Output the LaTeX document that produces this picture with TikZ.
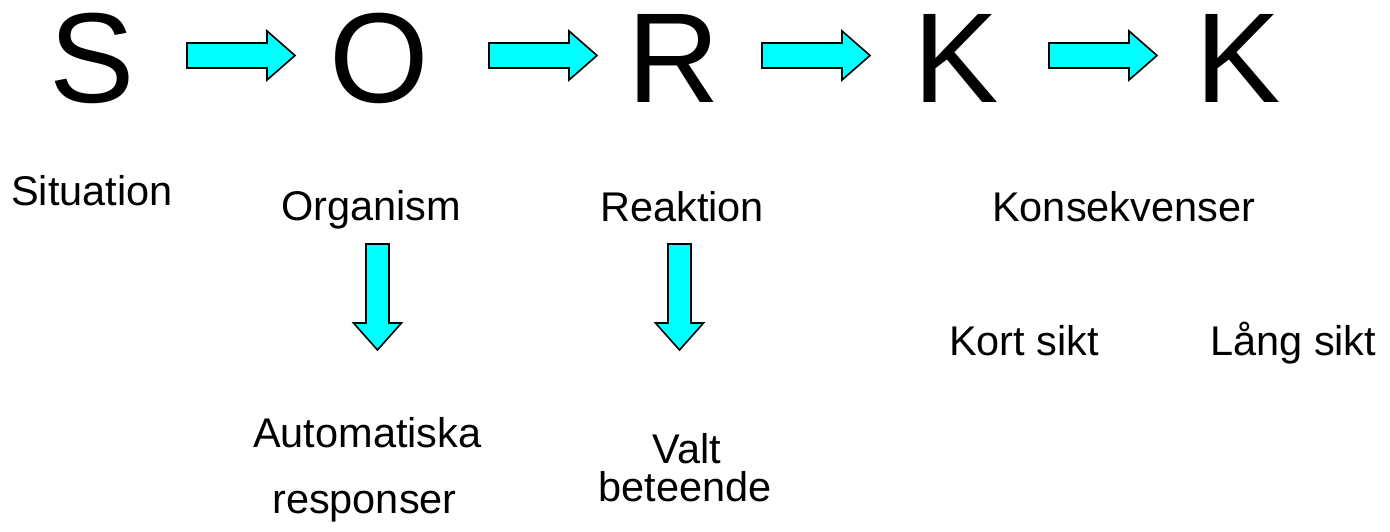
\documentclass[tikz,border=0pt]{standalone}
\usepackage{fontspec}
\setmainfont{Liberation Sans}
\definecolor{arrowcyan}{HTML}{00FFFF}
\begin{document}
\begin{tikzpicture}[x=1pt,y=-1pt,
  big/.style={inner sep=0pt,anchor=base west,font=\fontsize{128}{128}\selectfont},
  lbl/.style={inner sep=0pt,anchor=base west,font=\fontsize{41.5}{48}\selectfont},
  lblc/.style={inner sep=0pt,anchor=base,font=\fontsize{41.5}{48}\selectfont},
  blockarrow/.style={draw=black,line width=1.6pt,fill=arrowcyan,line join=miter},
  rarrow/.pic={\draw[blockarrow] (0,-12.5) -- (80,-12.5) -- (80,-24.5) -- (108,0) -- (80,24.5) -- (80,12.5) -- (0,12.5) -- cycle;},
  darrow/.pic={\draw[blockarrow] (-11.5,0) -- (11.5,0) -- (11.5,79) -- (24,79) -- (0,106) -- (-24,79) -- (-11.5,79) -- cycle;}
]
\useasboundingbox (0,0) rectangle (1390,532);
% top row letters
\node[big] (S) at (49,103) {S};
\node[big] (O) at (329,103) {O};
\node[big] (R) at (627,103) {R};
\node[big] (K1) at (913,103) {K};
\node[big] (K2) at (1195,103) {K};
% horizontal block arrows
\coordinate (a1) at (187,55.5);
\coordinate (a2) at (489,55.5);
\coordinate (a3) at (762,55.5);
\coordinate (a4) at (1049,55.5);
\pic at (a1) {rarrow};
\pic at (a2) {rarrow};
\pic at (a3) {rarrow};
\pic at (a4) {rarrow};
% labels
\node[lbl] (situation) at (11,205) {Situation};
\node[lbl] (organism) at (281,220) {Organism};
\node[lbl] (reaktion) at (600,221) {Reaktion};
\node[lbl] (konsekvenser) at (992,221) {Konsekvenser};
\node[lbl] (kort) at (949,355) {Kort sikt};
\node[lbl] (lang) at (1210,355) {Lång sikt};
\node[lbl] (auto) at (253,447) {Automatiska};
\node[lbl] (resp) at (272,513) {responser};
\node[lblc] (valt) at (687,463) {Valt};
\node[lblc] (beteende) at (685,501) {beteende};
% down block arrows
\coordinate (d1) at (377.5,244);
\coordinate (d2) at (679.5,244);
\pic at (d1) {darrow};
\pic at (d2) {darrow};
\end{tikzpicture}
\end{document}
